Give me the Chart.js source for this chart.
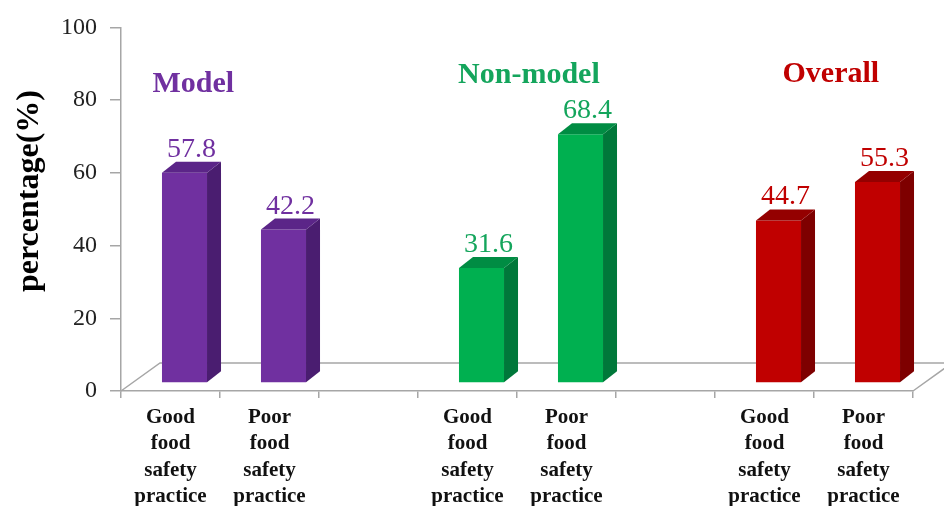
<!DOCTYPE html>
<html>
<head>
<meta charset="utf-8">
<script src="https://cdn.jsdelivr.net/npm/chart.js@4.4.1/dist/chart.umd.min.js"></script>
<style>
  body { margin: 0; background: #fff; }
</style>
</head>
<body>
<canvas id="practiceChart" width="944" height="506"></canvas>
<script>
// data
const categories = [
    ['Good', 'food', 'safety', 'practice'],
    ['Poor', 'food', 'safety', 'practice'],
    '',
    ['Good', 'food', 'safety', 'practice'],
    ['Poor', 'food', 'safety', 'practice'],
    '',
    ['Good', 'food', 'safety', 'practice'],
    ['Poor', 'food', 'safety', 'practice']
];
const percentValues = [57.8, 42.2, null, 31.6, 68.4, null, 44.7, 55.3];
const groupNames = ['Model', 'Non-model', 'Overall'];
const barGroup = [0, 0, null, 1, 1, null, 2, 2];
const yTicks = [0, 20, 40, 60, 80, 100];
const yTitle = 'percentage(%)';

// colours per group: front, side, top, text
const frontColors = ['#7030a0', '#00b050', '#c00000'];
const sideColors = ['#4a1d70', '#00783a', '#7e0000'];
const topColors = ['#5b2588', '#008c43', '#940000'];
const textColors = ['#7030a0', '#14a55c', '#c00000'];

// where the group titles sit (category index, y value)
const titleAnchors = [[0.23, 82.3], [3.62, 84.7], [6.67, 85.0]];

const serif = "'Liberation Serif', 'DejaVu Serif', serif";
Chart.defaults.font.family = serif;

const depth = { dx: 14, dy: 11 };      // side/top of each bar
const shift = { dx: 14, dy: -8 };      // bars stand half way back on the floor
const floor = { dx: 39, dy: 28 };      // depth of the floor
const edgeColor = '#a6a6a6';

const bar3d = {
    id: 'bar3d',
    beforeDatasetsDraw(chart) {
        const { ctx, chartArea } = chart;
        const l = chartArea.left, r = chartArea.right, b = chartArea.bottom;
        ctx.save();
        ctx.strokeStyle = edgeColor;
        ctx.lineWidth = 1.5;
        ctx.beginPath();
        ctx.moveTo(l, b);
        ctx.lineTo(l + floor.dx, b - floor.dy);
        ctx.lineTo(r + floor.dx, b - floor.dy);
        ctx.moveTo(r, b);
        ctx.lineTo(r + floor.dx, b - floor.dy);
        ctx.stroke();
        ctx.restore();
    },
    beforeDatasetDraw(chart) {
        chart.ctx.save();
        chart.ctx.translate(shift.dx, shift.dy);
    },
    afterDatasetDraw(chart, args) {
        const ctx = chart.ctx;
        args.meta.data.forEach((bar, i) => {
            const g = barGroup[i];
            if (g === null || percentValues[i] === null) return;
            const { x, y, base, width } = bar.getProps(['x', 'y', 'base', 'width'], true);
            const L = x - width / 2, R = x + width / 2;
            // side
            ctx.fillStyle = sideColors[g];
            ctx.beginPath();
            ctx.moveTo(R, y);
            ctx.lineTo(R + depth.dx, y - depth.dy);
            ctx.lineTo(R + depth.dx, base - depth.dy);
            ctx.lineTo(R, base);
            ctx.closePath();
            ctx.fill();
            // top
            ctx.fillStyle = topColors[g];
            ctx.beginPath();
            ctx.moveTo(L, y);
            ctx.lineTo(L + depth.dx, y - depth.dy);
            ctx.lineTo(R + depth.dx, y - depth.dy);
            ctx.lineTo(R, y);
            ctx.closePath();
            ctx.fill();
            // value
            ctx.fillStyle = textColors[g];
            ctx.font = '28px ' + serif;
            ctx.textAlign = 'center';
            ctx.textBaseline = 'alphabetic';
            ctx.fillText(percentValues[i].toFixed(1), x + depth.dx / 2, y - depth.dy - 5);
        });
        ctx.restore();
    },
    afterDraw(chart) {
        const { ctx, scales } = chart;
        ctx.save();
        ctx.font = 'bold 30px ' + serif;
        ctx.textAlign = 'center';
        ctx.textBaseline = 'alphabetic';
        groupNames.forEach((name, g) => {
            ctx.fillStyle = textColors[g];
            ctx.fillText(name, scales.x.getPixelForValue(titleAnchors[g][0]), scales.y.getPixelForValue(titleAnchors[g][1]));
        });
        // axis title, a little above the middle of the axis like the original
        ctx.translate(30, scales.y.getPixelForValue(55));
        ctx.rotate(-Math.PI / 2);
        ctx.fillStyle = '#000';
        ctx.font = 'bold 32px ' + serif;
        ctx.textBaseline = 'middle';
        ctx.fillText(yTitle, 0, 0);
        ctx.restore();
    }
};

const ctx = document.getElementById('practiceChart').getContext('2d');
const practiceChart = new Chart(ctx, {
    type: 'bar',
    data: {
        labels: categories,
        datasets: [{
            label: 'percentage',
            data: percentValues,
            backgroundColor: barGroup.map(g => g === null ? 'transparent' : frontColors[g]),
            borderWidth: 0,
            categoryPercentage: 1,
            barPercentage: 0.455,
            clip: false
        }]
    },
    options: {
        responsive: false,
        animation: false,
        layout: { padding: { top: 12, right: 31, left: 0, bottom: 0 } },
        plugins: {
            legend: { display: false },
            tooltip: { enabled: false }
        },
        scales: {
            x: {
                grid: { display: true, drawOnChartArea: false, offset: true, tickLength: 7, color: edgeColor, lineWidth: 1.5 },
                border: { color: edgeColor, width: 1.5 },
                ticks: {
                    color: '#111',
                    font: { size: 21, weight: 'bold', lineHeight: 1.24 },
                    maxRotation: 0,
                    autoSkip: false,
                    padding: 7
                },
                afterFit: s => { s.height = 115; }
            },
            y: {
                min: 0,
                max: 100,
                afterBuildTicks: s => { s.ticks = yTicks.map(v => ({ value: v })); },
                grid: { drawOnChartArea: false, tickLength: 11, color: edgeColor, lineWidth: 1.5 },
                border: { color: edgeColor, width: 1.5 },
                ticks: { color: '#222', font: { size: 24 }, padding: 13 },
                afterFit: s => { s.width = 121; }
            }
        }
    },
    plugins: [bar3d]
});
</script>
</body>
</html>
